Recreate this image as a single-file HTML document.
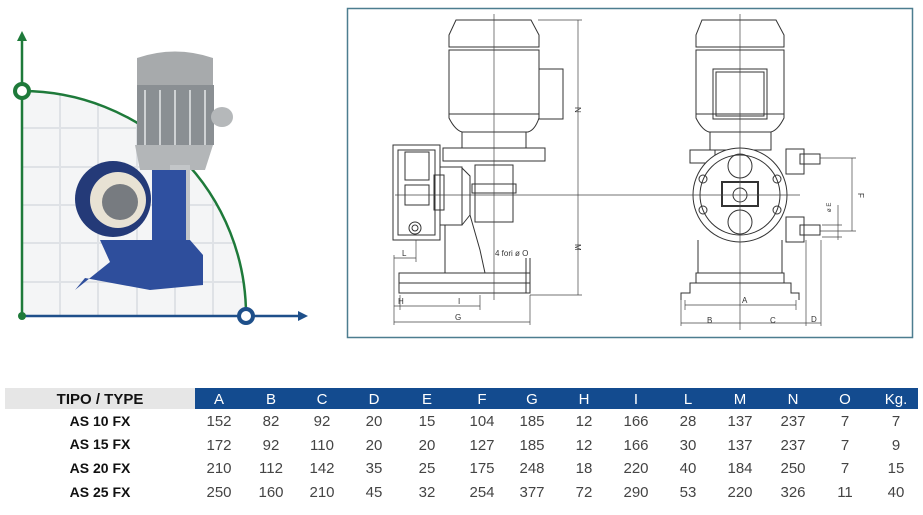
<!DOCTYPE html>
<html><head><meta charset="utf-8"><style>
html,body{margin:0;padding:0;background:#fff;width:923px;height:515px;overflow:hidden}
svg{display:block}
</style></head><body>
<svg width="923" height="515" viewBox="0 0 923 515" xmlns="http://www.w3.org/2000/svg" font-family="Liberation Sans, sans-serif">
<defs><clipPath id="q"><path d="M22,91 A224,224 0 0 1 246,315 L22,315 Z"/></clipPath></defs>
<g clip-path="url(#q)">
<rect x="22" y="91" width="224" height="224" fill="#f4f5f6"/>
<g stroke="#dfe2e6" stroke-width="2">
<line x1="60" y1="80" x2="60" y2="315"/><line x1="98" y1="80" x2="98" y2="315"/><line x1="137" y1="80" x2="137" y2="315"/><line x1="175" y1="80" x2="175" y2="315"/><line x1="213" y1="80" x2="213" y2="315"/>
<line x1="22" y1="128" x2="250" y2="128"/><line x1="22" y1="167" x2="250" y2="167"/><line x1="22" y1="205" x2="250" y2="205"/><line x1="22" y1="243" x2="250" y2="243"/><line x1="22" y1="282" x2="250" y2="282"/>
</g></g>
<path d="M22,91 A224,224 0 0 1 246,315" fill="none" stroke="#1e7a3a" stroke-width="2.5"/>
<line x1="22" y1="318" x2="22" y2="38" stroke="#1e7a3a" stroke-width="2.5"/>
<polygon points="22,31 17,41 27,41" fill="#1e7a3a"/>
<line x1="22" y1="316" x2="300" y2="316" stroke="#1e4f8a" stroke-width="2.5"/>
<polygon points="308,316 298,311 298,321" fill="#1e4f8a"/>
<circle cx="22" cy="316" r="4" fill="#1e7a3a"/>
<circle cx="22" cy="91" r="7" fill="#fff" stroke="#1e7a3a" stroke-width="4"/>
<circle cx="246" cy="316" r="7" fill="#fff" stroke="#1e4f8a" stroke-width="4"/>
<path d="M137,58 Q175,45 213,58 L213,90 L137,90 Z" fill="#a7aaac"/>
<rect x="137" y="85" width="77" height="60" fill="#8a8f93"/>
<g stroke="#cfd2d4" stroke-width="2"><line x1="145" y1="90" x2="145" y2="145"/><line x1="160" y1="90" x2="160" y2="145"/><line x1="175" y1="90" x2="175" y2="145"/><line x1="190" y1="90" x2="190" y2="145"/><line x1="205" y1="90" x2="205" y2="145"/></g>
<ellipse cx="222" cy="117" rx="11" ry="10" fill="#b5b8ba"/>
<path d="M135,145 L213,145 L205,170 L140,170 Z" fill="#b3b6b8"/>
<rect x="170" y="165" width="20" height="80" fill="#c3c6c8"/>
<circle cx="113" cy="199" r="38" fill="#243a78"/>
<circle cx="118" cy="200" r="28" fill="#e8e2d4"/>
<circle cx="120" cy="202" r="18" fill="#777b80"/>
<rect x="152" y="170" width="34" height="92" fill="#2f50a0"/>
<path d="M100,240 L190,240 L203,255 L203,285 L150,290 L85,278 L75,290 L110,262 Z" fill="#2e4e9c"/>
<rect x="347.5" y="8.5" width="565" height="329" fill="#fff" stroke="#4d7d8f" stroke-width="1.5"/>
<g fill="none" stroke="#333" stroke-width="1">
<path d="M456,20 L531,20 L539,35 L539,47 L449,47 L449,35 Z"/>
<rect x="449" y="50" width="90" height="64"/>
<path d="M449,114 L449,118 Q455,130 462,132 L528,132 Q535,130 539,118 L539,114"/>
<rect x="462" y="132" width="64" height="16"/>
<rect x="539" y="69" width="24" height="50"/>
<rect x="443" y="148" width="102" height="13"/>
<rect x="475" y="165" width="38" height="57"/>
<rect x="472" y="184" width="44" height="9"/>
<rect x="393" y="145" width="47" height="95"/>
<rect x="398" y="150" width="37" height="85"/>
<rect x="405" y="152" width="24" height="28"/>
<rect x="405" y="185" width="24" height="20"/>
<circle cx="415" cy="228" r="6"/><circle cx="415" cy="228" r="3"/>
<rect x="440" y="167" width="22" height="58"/>
<rect x="434" y="175" width="10" height="35"/>
<path d="M462,168 L470,176 L470,215 L462,225"/>
<path d="M445,225 L445,273 M470,215 L480,250 L485,273"/>
<rect x="399" y="273" width="131" height="10"/>
<path d="M399,283 L399,293 L530,293 L530,283"/>
<line x1="526" y1="258" x2="526" y2="293"/><line x1="530" y1="258" x2="530" y2="293"/>
<path d="M702,20 L776,20 L784,35 L784,47 L696,47 L696,35 Z"/>
<rect x="696" y="50" width="88" height="64"/>
<path d="M696,114 L696,118 Q702,130 709,132 L771,132 Q778,130 784,118 L784,114"/>
<rect x="713" y="69" width="54" height="50"/><rect x="716" y="72" width="48" height="44"/>
<rect x="710" y="132" width="61" height="18"/>
<rect x="690" y="150" width="25" height="13"/>
<circle cx="740" cy="195" r="47" fill="#fff"/>
<circle cx="740" cy="195" r="40"/>
<circle cx="740" cy="166" r="12"/><circle cx="740" cy="222" r="12"/>
<rect x="722" y="182" width="36" height="24" stroke-width="2"/>
<circle cx="740" cy="195" r="7"/>
<circle cx="703" cy="179" r="4"/><circle cx="777" cy="179" r="4"/><circle cx="703" cy="210" r="4"/><circle cx="777" cy="210" r="4"/>
<rect x="786" y="149" width="18" height="25"/><rect x="786" y="217" width="18" height="25"/>
<rect x="800" y="154" width="20" height="10"/><rect x="800" y="225" width="20" height="10"/>
<path d="M698,240 L698,273 M782,240 L782,273"/>
<rect x="696" y="273" width="88" height="10"/>
<path d="M696,283 L690,283 L690,293 L681,293 L681,300 M784,283 L791,283 L791,293 L799,293 L799,300"/>
</g>
<g stroke="#444" stroke-width="0.7" fill="none">
<line x1="494" y1="14" x2="494" y2="300"/>
<line x1="740" y1="14" x2="740" y2="330"/>
<line x1="395" y1="195" x2="800" y2="195"/>
<line x1="538" y1="20" x2="582" y2="20"/><line x1="578" y1="20" x2="578" y2="295"/><line x1="530" y1="295" x2="582" y2="295"/>
<line x1="394" y1="255" x2="394" y2="325"/><line x1="394" y1="258" x2="416" y2="258"/><line x1="416" y1="240" x2="416" y2="262"/>
<line x1="394" y1="306" x2="480" y2="306"/><line x1="400" y1="295" x2="400" y2="310"/><line x1="480" y1="295" x2="480" y2="310"/>
<line x1="394" y1="322" x2="530" y2="322"/><line x1="530" y1="295" x2="530" y2="325"/>
<line x1="685" y1="305" x2="796" y2="305"/><line x1="685" y1="300" x2="685" y2="310"/><line x1="796" y1="300" x2="796" y2="310"/>
<line x1="681" y1="323" x2="821" y2="323"/><line x1="681" y1="300" x2="681" y2="326"/><line x1="806" y1="240" x2="806" y2="326"/><line x1="821" y1="240" x2="821" y2="326"/>
<line x1="820" y1="158" x2="856" y2="158"/><line x1="820" y1="231" x2="856" y2="231"/><line x1="852" y1="158" x2="852" y2="231"/>
<line x1="822" y1="225" x2="842" y2="225"/><line x1="822" y1="237" x2="842" y2="237"/><line x1="838" y1="205" x2="838" y2="240"/>
</g>
<g font-size="8" fill="#333">
<text x="575" y="107" transform="rotate(90 575 107)">N</text>
<text x="575" y="244" transform="rotate(90 575 244)">M</text>
<text x="402" y="256">L</text>
<text x="495" y="256">4 fori ø O</text>
<text x="398" y="304">H</text><text x="458" y="304">I</text><text x="455" y="320">G</text>
<text x="742" y="303">A</text><text x="707" y="323">B</text><text x="770" y="323">C</text><text x="811" y="322">D</text>
<text x="858" y="193" transform="rotate(90 858 193)">F</text>
<text x="831" y="212" transform="rotate(-90 831 212)" font-size="6">ø E</text>
</g>
<rect x="5" y="388" width="190" height="21" fill="#e6e6e6"/>
<rect x="195" y="388" width="723" height="21" fill="#134b8f"/>
<text x="100" y="404" font-size="15" font-weight="bold" text-anchor="middle" fill="#111">TIPO / TYPE</text>
<g font-size="15" text-anchor="middle" fill="#fff">
<text x="219" y="404">A</text><text x="271" y="404">B</text><text x="322" y="404">C</text><text x="374" y="404">D</text><text x="427" y="404">E</text><text x="482" y="404">F</text><text x="532" y="404">G</text><text x="584" y="404">H</text><text x="636" y="404">I</text><text x="688" y="404">L</text><text x="740" y="404">M</text><text x="793" y="404">N</text><text x="845" y="404">O</text><text x="896" y="404">Kg.</text>
</g>
<g font-size="14" font-weight="bold" text-anchor="middle" fill="#111">
<text x="100" y="426">AS 10 FX</text><text x="100" y="449">AS 15 FX</text><text x="100" y="473">AS 20 FX</text><text x="100" y="497">AS 25 FX</text>
</g>
<g font-size="15" text-anchor="middle" fill="#444">
<text y="426"><tspan x="219">152</tspan><tspan x="271">82</tspan><tspan x="322">92</tspan><tspan x="374">20</tspan><tspan x="427">15</tspan><tspan x="482">104</tspan><tspan x="532">185</tspan><tspan x="584">12</tspan><tspan x="636">166</tspan><tspan x="688">28</tspan><tspan x="740">137</tspan><tspan x="793">237</tspan><tspan x="845">7</tspan><tspan x="896">7</tspan></text>
<text y="450"><tspan x="219">172</tspan><tspan x="271">92</tspan><tspan x="322">110</tspan><tspan x="374">20</tspan><tspan x="427">20</tspan><tspan x="482">127</tspan><tspan x="532">185</tspan><tspan x="584">12</tspan><tspan x="636">166</tspan><tspan x="688">30</tspan><tspan x="740">137</tspan><tspan x="793">237</tspan><tspan x="845">7</tspan><tspan x="896">9</tspan></text>
<text y="473"><tspan x="219">210</tspan><tspan x="271">112</tspan><tspan x="322">142</tspan><tspan x="374">35</tspan><tspan x="427">25</tspan><tspan x="482">175</tspan><tspan x="532">248</tspan><tspan x="584">18</tspan><tspan x="636">220</tspan><tspan x="688">40</tspan><tspan x="740">184</tspan><tspan x="793">250</tspan><tspan x="845">7</tspan><tspan x="896">15</tspan></text>
<text y="497"><tspan x="219">250</tspan><tspan x="271">160</tspan><tspan x="322">210</tspan><tspan x="374">45</tspan><tspan x="427">32</tspan><tspan x="482">254</tspan><tspan x="532">377</tspan><tspan x="584">72</tspan><tspan x="636">290</tspan><tspan x="688">53</tspan><tspan x="740">220</tspan><tspan x="793">326</tspan><tspan x="845">11</tspan><tspan x="896">40</tspan></text>
</g>
</svg>
</body></html>
